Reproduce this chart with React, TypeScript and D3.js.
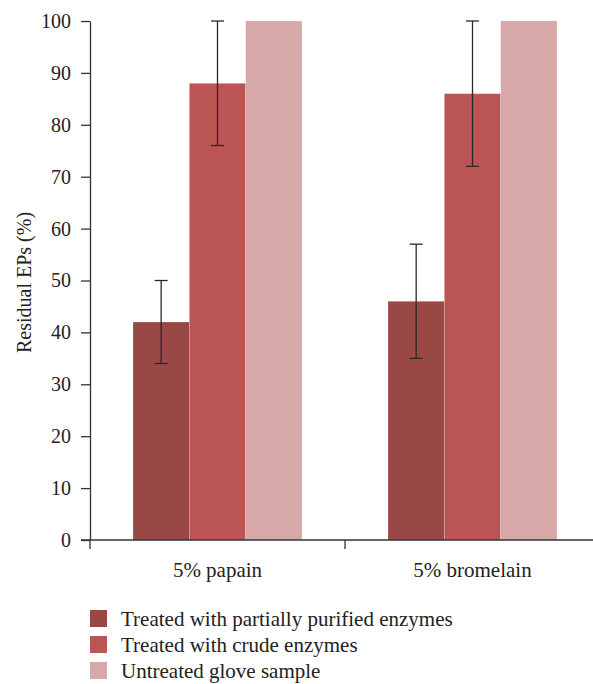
import React, { useEffect, useRef } from 'react';
import * as d3 from 'd3';

const categories = ['5% papain', '5% bromelain'];
const seriesNames = [
  'Treated with partially purified enzymes',
  'Treated with crude enzymes',
  'Untreated glove sample',
];
const partial = [42, 46];
const partialErr = [8, 11];
const crude = [88, 86];
const crudeErr = [12, 14];
const untreated = [100, 100];
const untreatedErr = [0, 0];
const yTicks = [0, 10, 20, 30, 40, 50, 60, 70, 80, 90, 100];
const colors = ['#994846', '#ba5553', '#d6a8a8'];

const FONT = '"Liberation Serif", "DejaVu Serif", serif';

export default function App() {
  const ref = useRef<SVGSVGElement>(null);

  useEffect(() => {
    const svg = d3.select(ref.current);
    svg.selectAll('*').remove();

    const width = 593;
    const height = 684;
    const left = 90;
    const top = 21;
    const bottom = 540;

    const x0 = d3.scaleBand().domain(categories).range([left, 600]).padding(0);
    const x1 = d3.scaleBand().domain(seriesNames).range([0, 169]);
    const y = d3.scaleLinear().domain([0, 100]).range([bottom, top]);

    svg.attr('width', width).attr('height', height);

    const data = categories.map((c, i) => ({
      cat: c,
      vals: [
        { name: seriesNames[0], v: partial[i], e: partialErr[i] },
        { name: seriesNames[1], v: crude[i], e: crudeErr[i] },
        { name: seriesNames[2], v: untreated[i], e: untreatedErr[i] },
      ],
    }));

    const groupOffset = (x0.bandwidth() - 169) / 2;

    const groups = svg.append('g').selectAll('g').data(data).enter().append('g')
      .attr('transform', d => `translate(${(x0(d.cat) as number) + groupOffset},0)`);

    groups.selectAll('rect').data(d => d.vals).enter().append('rect')
      .attr('x', d => x1(d.name) as number)
      .attr('y', d => y(d.v))
      .attr('width', x1.bandwidth())
      .attr('height', d => y(0) - y(d.v))
      .attr('fill', (d, i) => colors[i])
      .attr('stroke', 'rgba(255,255,255,0.35)')
      .attr('stroke-width', 0.6);

    // error bars
    const eb = groups.selectAll('g.err').data(d => d.vals.filter(v => v.e > 0)).enter().append('g')
      .attr('class', 'err');
    const cx = (d: any) => (x1(d.name) as number) + x1.bandwidth() / 2;
    eb.append('line')
      .attr('x1', cx).attr('x2', cx)
      .attr('y1', d => y(d.v - d.e)).attr('y2', d => y(d.v + d.e))
      .attr('stroke', '#2a2a2a').attr('stroke-width', 1.3);
    [1, -1].forEach(s => {
      eb.append('line')
        .attr('x1', d => cx(d) - 6.5).attr('x2', d => cx(d) + 6.5)
        .attr('y1', d => y(d.v + s * d.e)).attr('y2', d => y(d.v + s * d.e))
        .attr('stroke', '#2a2a2a').attr('stroke-width', 1.3);
    });

    // y axis
    const yAxis = svg.append('g').attr('transform', `translate(${left},0)`)
      .call(d3.axisLeft(y).tickValues(yTicks).tickSize(9).tickSizeOuter(0).tickPadding(10));
    yAxis.select('.domain').attr('stroke', '#333').attr('stroke-width', 1.3);
    yAxis.selectAll('.tick line').attr('stroke', '#333').attr('stroke-width', 1.3);
    yAxis.selectAll('text').attr('font-family', FONT).attr('font-size', 20).attr('fill', '#222');

    // x axis
    const xg = svg.append('g');
    xg.append('line')
      .attr('x1', left - 9).attr('x2', width)
      .attr('y1', bottom).attr('y2', bottom)
      .attr('stroke', '#333').attr('stroke-width', 1.3);
    const bounds = categories.map(c => x0(c) as number);
    xg.selectAll('line.tk').data(bounds).enter().append('line')
      .attr('class', 'tk')
      .attr('x1', d => d).attr('x2', d => d)
      .attr('y1', bottom).attr('y2', bottom + 9)
      .attr('stroke', '#333').attr('stroke-width', 1.3);
    xg.selectAll('text').data(categories).enter().append('text')
      .attr('x', d => (x0(d) as number) + x0.bandwidth() / 2)
      .attr('y', 577)
      .attr('text-anchor', 'middle')
      .attr('font-family', FONT).attr('font-size', 21).attr('fill', '#222')
      .text(d => d);

    // y label
    svg.append('text')
      .attr('transform', `translate(31,${(top + bottom) / 2 + 2}) rotate(-90)`)
      .attr('text-anchor', 'middle')
      .attr('font-family', FONT).attr('font-size', 20).attr('fill', '#222')
      .text('Residual EPs (%)');

    // legend
    const lg = svg.append('g').selectAll('g').data(seriesNames).enter().append('g')
      .attr('transform', (d, i) => `translate(90,${610 + i * 26})`);
    lg.append('rect').attr('width', 17).attr('height', 17).attr('fill', (d, i) => colors[i]);
    lg.append('text')
      .attr('x', 31).attr('y', 16)
      .attr('font-family', FONT).attr('font-size', 21).attr('fill', '#222')
      .text(d => d);
  }, []);

  return <svg ref={ref} style={{ display: 'block', position: 'absolute', left: 0, top: 0 }} />;
}
